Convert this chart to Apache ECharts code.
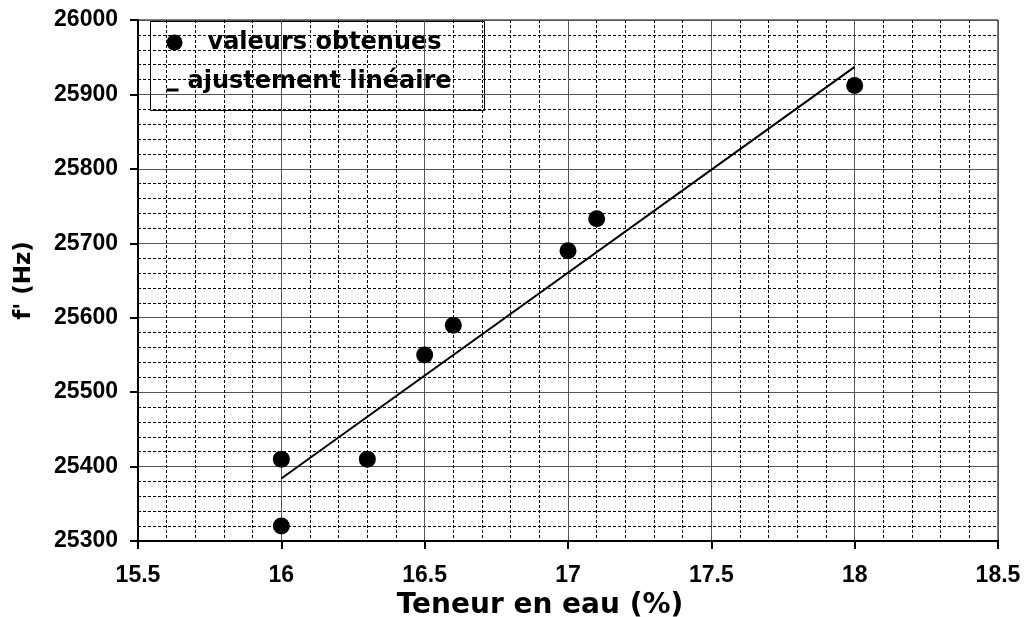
<!DOCTYPE html>
<html>
<head>
<meta charset="utf-8">
<script src="https://cdn.jsdelivr.net/npm/echarts@6/dist/echarts.min.js"></script>
<style>
  html, body { margin: 0; padding: 0; background: #fff; }
  #chart { width: 1024px; height: 617px; }
</style>
</head>
<body>
<div id="chart"></div>
<script>
// Measured water content (%) and resonance frequency f' (Hz)
const teneur = [16, 16, 16.3, 16.5, 16.6, 17, 17.1, 18];
const frequence = [25410, 25320, 25410, 25550, 25590, 25690, 25733, 25912];

// End points of the linear fit line
const ajustX = [16, 18];
const ajustY = [25384, 25937];

// Axis ranges and steps
const xRange = [15.5, 18.5], xStep = 0.5;
const yRange = [25300, 26000], yStep = 100;

const legendLabels = ['valeurs obtenues', 'ajustement linéaire'];
const xTitle = 'Teneur en eau (%)';
const yTitle = "f' (Hz)";

const points = teneur.map((x, i) => [x, frequence[i]]);
const fitLine = ajustX.map((x, i) => [x, ajustY[i]]);

const tickFont = { fontFamily: '"Liberation Sans", Arial, sans-serif', fontWeight: 'bold', fontSize: 23, color: '#000' };
const titleFont = { fontFamily: '"DejaVu Sans", Verdana, sans-serif', fontWeight: 'bold', color: '#000' };
const legendFont = 'bold 24px "DejaVu Sans", Verdana, sans-serif';

const chart = echarts.init(document.getElementById('chart'), null, { renderer: 'canvas' });

chart.setOption({
  animation: false,
  backgroundColor: '#fff',
  grid: {
    left: 138, right: 26, top: 20, bottom: 76,
    show: true, borderColor: '#000', borderWidth: 1,
    containLabel: false, outerBoundsMode: 'none'
  },
  xAxis: {
    type: 'value',
    min: xRange[0], max: xRange[1], interval: xStep,
    axisLine: { show: true, onZero: false, lineStyle: { color: '#000', width: 2 } },
    axisTick: { show: true, length: 8, lineStyle: { color: '#000', width: 2 } },
    axisLabel: Object.assign({ margin: 23, formatter: v => String(v) }, tickFont),
    splitLine: { show: true, lineStyle: { color: '#555', width: 1 } },
    minorTick: { show: false, splitNumber: 5 },
    minorSplitLine: { show: true, lineStyle: { color: '#000', width: 1, type: [3, 2] } },
    name: xTitle,
    nameLocation: 'middle',
    nameGap: 44,
    nameTextStyle: Object.assign({ fontSize: 28, verticalAlign: 'top', padding: [0, 56, 0, 0] }, titleFont)
  },
  yAxis: {
    type: 'value',
    min: yRange[0], max: yRange[1], interval: yStep,
    axisLine: { show: true, onZero: false, lineStyle: { color: '#000', width: 2 } },
    axisTick: { show: true, length: 8, lineStyle: { color: '#000', width: 2 } },
    axisLabel: Object.assign({ margin: 20, formatter: v => String(v) }, tickFont),
    splitLine: { show: true, lineStyle: { color: '#555', width: 1 } },
    minorTick: { show: false, splitNumber: 5 },
    minorSplitLine: { show: true, lineStyle: { color: '#000', width: 1, type: [3, 2] } },
    name: yTitle,
    nameLocation: 'middle',
    nameGap: 102,
    nameTextStyle: Object.assign({ fontSize: 23 }, titleFont)
  },
  series: [
    {
      name: legendLabels[1],
      type: 'line',
      data: fitLine,
      symbol: 'none',
      lineStyle: { color: '#000', width: 2 },
      z: 3
    },
    {
      name: legendLabels[0],
      type: 'scatter',
      data: points,
      symbol: 'circle',
      symbolSize: 17,
      itemStyle: { color: '#000', opacity: 1 },
      z: 4
    }
  ],
  graphic: [
    {
      type: 'group', left: 150, top: 21, z: 100,
      children: [
        { type: 'rect', shape: { x: 0, y: 0, width: 334, height: 89 },
          style: { fill: '#fff', stroke: '#000', lineWidth: 1 } },
        { type: 'circle', shape: { cx: 24, cy: 21, r: 8 }, style: { fill: '#000' } },
        { type: 'text', style: { x: 57, y: 21, text: legendLabels[0], font: legendFont, fill: '#000', verticalAlign: 'middle' } },
        { type: 'rect', shape: { x: 16, y: 67, width: 12, height: 3 }, style: { fill: '#000' } },
        { type: 'text', style: { x: 37, y: 60, text: legendLabels[1], font: legendFont, fill: '#000', verticalAlign: 'middle' } }
      ]
    }
  ]
});
</script>
</body>
</html>
